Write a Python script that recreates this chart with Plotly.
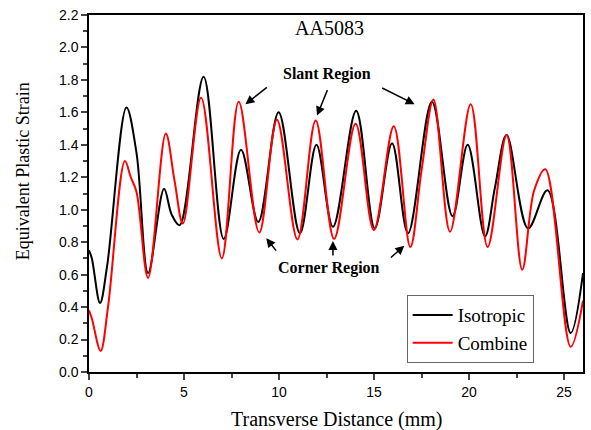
import plotly.graph_objects as go

# Isotropic (black)
iso_x = [0, 0.15, 0.58, 0.95, 1.97, 2.5, 3.11, 3.95, 4.35, 4.77, 6.03, 7.09, 8.0, 8.91, 9.98,
         11.1, 11.97, 12.84, 14.06, 15.04, 15.95, 16.79, 18.05, 19.13, 19.93, 20.84, 21.37,
         21.98, 23.11, 24.13, 25.35, 26.0]
iso_y = [0.75, 0.70, 0.425, 0.65, 1.63, 1.35, 0.61, 1.13, 0.97, 0.905, 1.82, 0.82, 1.37, 0.925, 1.60,
         0.855, 1.40, 0.895, 1.61, 0.885, 1.41, 0.855, 1.665, 0.96, 1.40, 0.835, 1.14,
         1.46, 0.885, 1.12, 0.24, 0.61]

# Combine (red)
com_x = [0, 0.15, 0.61, 1.0, 1.89, 2.2, 2.5, 3.11, 4.04, 4.5, 4.94, 5.9, 6.99, 7.88, 8.96, 9.89,
         10.97, 11.93, 12.9, 14.03, 14.99, 16.04, 16.91, 17.5, 18.13, 19.0, 20.09, 20.98,
         21.98, 22.8, 23.43, 24.02, 25.35, 26.0]
com_y = [0.38, 0.33, 0.13, 0.40, 1.30, 1.20, 1.11, 0.58, 1.47, 1.18, 0.915, 1.69, 0.70, 1.665, 0.86, 1.555,
         0.817, 1.55, 0.82, 1.53, 0.875, 1.515, 0.77, 1.24, 1.68, 0.865, 1.65, 0.77,
         1.46, 0.63, 1.12, 1.25, 0.155, 0.44]

x_ticks = [0, 5, 10, 15, 20, 25]
y_ticks = [0.0, 0.2, 0.4, 0.6, 0.8, 1.0, 1.2, 1.4, 1.6, 1.8, 2.0, 2.2]

serif = "Liberation Serif"
sans = "Liberation Sans"

fig = go.Figure()
fig.add_trace(go.Scatter(x=iso_x, y=iso_y, mode="lines", name="Isotropic",
                         line=dict(color="black", width=2, shape="spline", smoothing=1)))
fig.add_trace(go.Scatter(x=com_x, y=com_y, mode="lines", name="Combine",
                         line=dict(color="#ff0000", width=2, shape="spline", smoothing=1)))

fig.update_layout(
    width=591, height=430,
    margin=dict(l=89, r=6, t=15, b=58),
    plot_bgcolor="white", paper_bgcolor="white",
    showlegend=True,
    legend=dict(x=0.643, y=0.025, xanchor="left", yanchor="bottom",
                bgcolor="white", bordercolor="#666666", borderwidth=1,
                font=dict(family=serif, size=19, color="black"),
                tracegroupgap=0, itemwidth=40),
)
fig.update_xaxes(range=[0, 26], tickvals=x_ticks, ticks="outside", ticklen=6, tickwidth=1.5,
                 minor=dict(dtick=2.5, ticks="outside", ticklen=4, tickwidth=1.5),
                 showline=True, linecolor="black", linewidth=1.5, mirror=True,
                 showgrid=False, zeroline=False,
                 tickfont=dict(family=sans, size=14, color="black"))
fig.update_yaxes(range=[0, 2.2], tickvals=y_ticks, ticktext=[f"{v:.1f}" for v in y_ticks],
                 ticks="outside", ticklen=6, tickwidth=1.5,
                 minor=dict(dtick=0.1, ticks="outside", ticklen=4, tickwidth=1.5),
                 showline=True, linecolor="black", linewidth=1.5, mirror=True,
                 showgrid=False, zeroline=False,
                 tickfont=dict(family=sans, size=14, color="black"))

# axis titles
fig.add_annotation(xref="paper", yref="paper", x=0.5, y=-0.134, yanchor="middle",
                   text="Transverse Distance (mm)", showarrow=False,
                   font=dict(family=serif, size=20, color="black"))
fig.add_annotation(xref="paper", yref="paper", x=-0.133, y=0.563, xanchor="center", yanchor="middle",
                   text="Equivalent Plastic Strain", textangle=-90, showarrow=False,
                   font=dict(family=serif, size=18, color="black"))

fig.add_annotation(x=12.68, y=2.118, text="AA5083", showarrow=False,
                   font=dict(family=serif, size=20, color="black"))
fig.add_annotation(x=12.5, y=1.835, text="<b>Slant Region</b>", showarrow=False,
                   font=dict(family=serif, size=16, color="black"))
fig.add_annotation(x=12.63, y=0.64, text="<b>Corner Region</b>", showarrow=False,
                   font=dict(family=serif, size=16, color="black"))

arrows = [
    (8.23, 1.65, 23, -18),
    (12.0, 1.58, 11, -27),
    (17.14, 1.65, -34, -17),
    (9.33, 0.825, 11, 14),
    (12.84, 0.807, 0, 16),
    (16.6, 0.778, -15, 13),
]
for hx, hy, ax, ay in arrows:
    fig.add_annotation(x=hx, y=hy, ax=ax, ay=ay, text="", showarrow=True,
                       arrowhead=2, arrowsize=1.2, arrowwidth=1.5, arrowcolor="black")

fig.write_html("out.html")
